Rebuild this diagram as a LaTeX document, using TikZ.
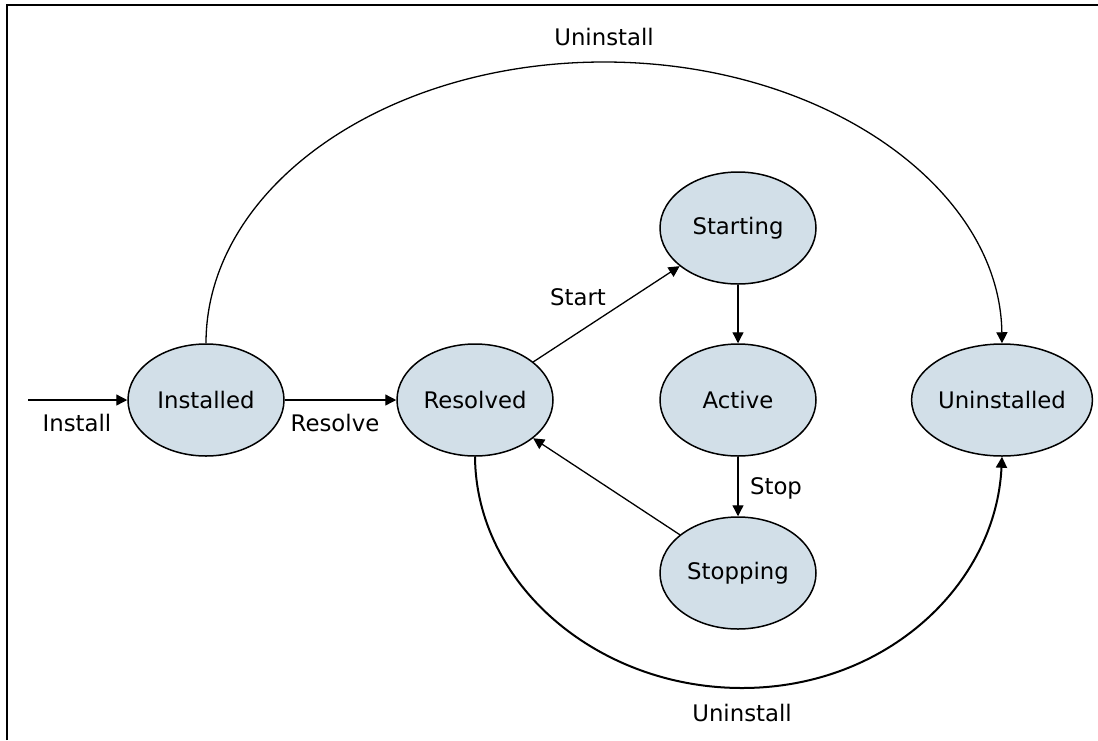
\documentclass[tikz,border=0pt]{standalone}
\usepackage{fontspec}
\setmainfont{DejaVu Sans}
\usetikzlibrary{arrows.meta,positioning,shapes.geometric}
\definecolor{statefill}{RGB}{210,223,232}

\begin{document}
\begin{tikzpicture}[x=0.5pt,y=-0.5pt,
    font=\fontsize{11.4}{13.7}\selectfont,
    state/.style={ellipse, draw, line width=0.75pt, fill=statefill,
      minimum width=78pt, minimum height=56pt, inner sep=0pt},
    trans/.style={-{Triangle[length=5.5pt,width=5.5pt]}, line width=0.65pt}]
  \useasboundingbox (0,0) rectangle (1098,740);
  \draw[line width=0.6pt] (7,740) -- (7,5) -- (1098,5);

  % states
  \node[state] (Installed) at (206,400) {Installed};
  \node[state] (Resolved) at (475,400) {Resolved};
  \foreach \name/\y in {Starting/228,Active/400,Stopping/573}
    \node[state] (\name) at (738,\y) {\name};
  \node[state] (Uninstalled) at (1002,400) {Uninstalled};

  % transitions
  \coordinate (entry) at (28,400);
  \draw[trans] (entry) -- (Installed);
  \draw[trans] (Installed) -- (Resolved);
  \draw[trans] (Resolved) -- (Starting);
  \draw[trans] (Starting) -- (Active);
  \draw[trans] (Active) -- (Stopping);
  \draw[trans] (Stopping) -- (Resolved);
  \draw[trans] (Installed.north) .. controls (206,188) and (384,62) .. (604,62)
    .. controls (824,62) and (1000,188) .. (Uninstalled.north);
  \draw[trans, line width=1pt] (Resolved.south) .. controls (476,584) and (597,688) .. (742,688)
    .. controls (887,688) and (996,584) .. (Uninstalled.south);

  % labels
  \node (lblInstall) at (77,423) {Install};
  \node (lblResolve) at (335,423) {Resolve};
  \node (lblStart) at (578,297) {Start};
  \node (lblStop) at (776,488) {Stop};
  \node (lblUninstallTop) at (604,37) {Uninstall};
  \node (lblUninstallBottom) at (742,713) {Uninstall};
\end{tikzpicture}
\end{document}
